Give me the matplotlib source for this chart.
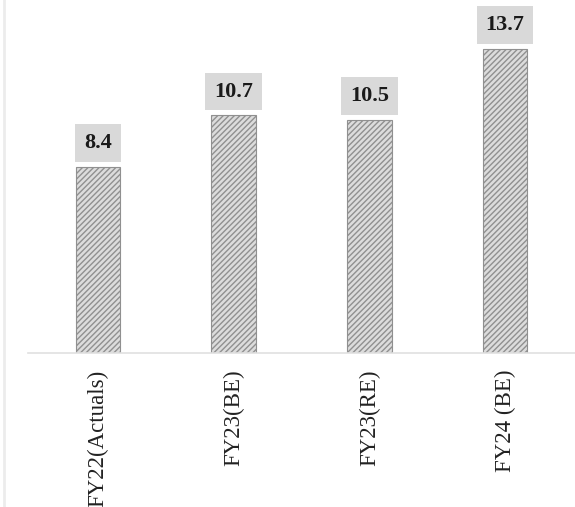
import matplotlib
matplotlib.use("Agg")
import matplotlib.pyplot as plt
from matplotlib.lines import Line2D

categories = ["FY22(Actuals)", "FY23(BE)", "FY23(RE)", "FY24 (BE)"]
values = [8.4, 10.7, 10.5, 13.7]

plt.rcParams.update({
    "font.family": "serif", "font.serif": ["Liberation Serif", "DejaVu Serif"],
    "hatch.color": "#8a8a8a", "hatch.linewidth": 1.0,
})

fig = plt.figure(figsize=(5.75, 5.07), dpi=100)
ax = fig.add_axes([28 / 575, 1 - 353 / 507, 1 - 28 / 575, 353 / 507])

x = range(len(categories))
ax.bar(x, values, width=0.33, color="#dcdcdc", edgecolor="#909090",
       linewidth=0.8, hatch="//////", zorder=2)

for xi, v in zip(x, values):
    ax.annotate(f"{v}", (xi, v), xytext=(0, 10), textcoords="offset points",
                ha="center", va="bottom", fontsize=16, fontweight="bold",
                color="#1a1a1a",
                bbox=dict(boxstyle="square,pad=0.4", fc="#d9d9d9", ec="none"))

ax.set_xlim(-0.516, 3.516)
ax.set_ylim(0, 15.9)
ax.set_xticks(list(x))
ax.set_xticklabels(categories, rotation=90, fontsize=16.5, color="#222222")
ax.tick_params(axis="x", length=0, pad=12)
ax.set_yticks([])
for s in ["top", "right", "left"]:
    ax.spines[s].set_visible(False)
ax.spines["bottom"].set_color("#e0e0e0")
ax.spines["bottom"].set_linewidth(1.2)

fig.add_artist(Line2D([4 / 575, 4 / 575], [0, 1], color="#ececec", lw=2))

fig.savefig("out.png", dpi=100, facecolor="white")
